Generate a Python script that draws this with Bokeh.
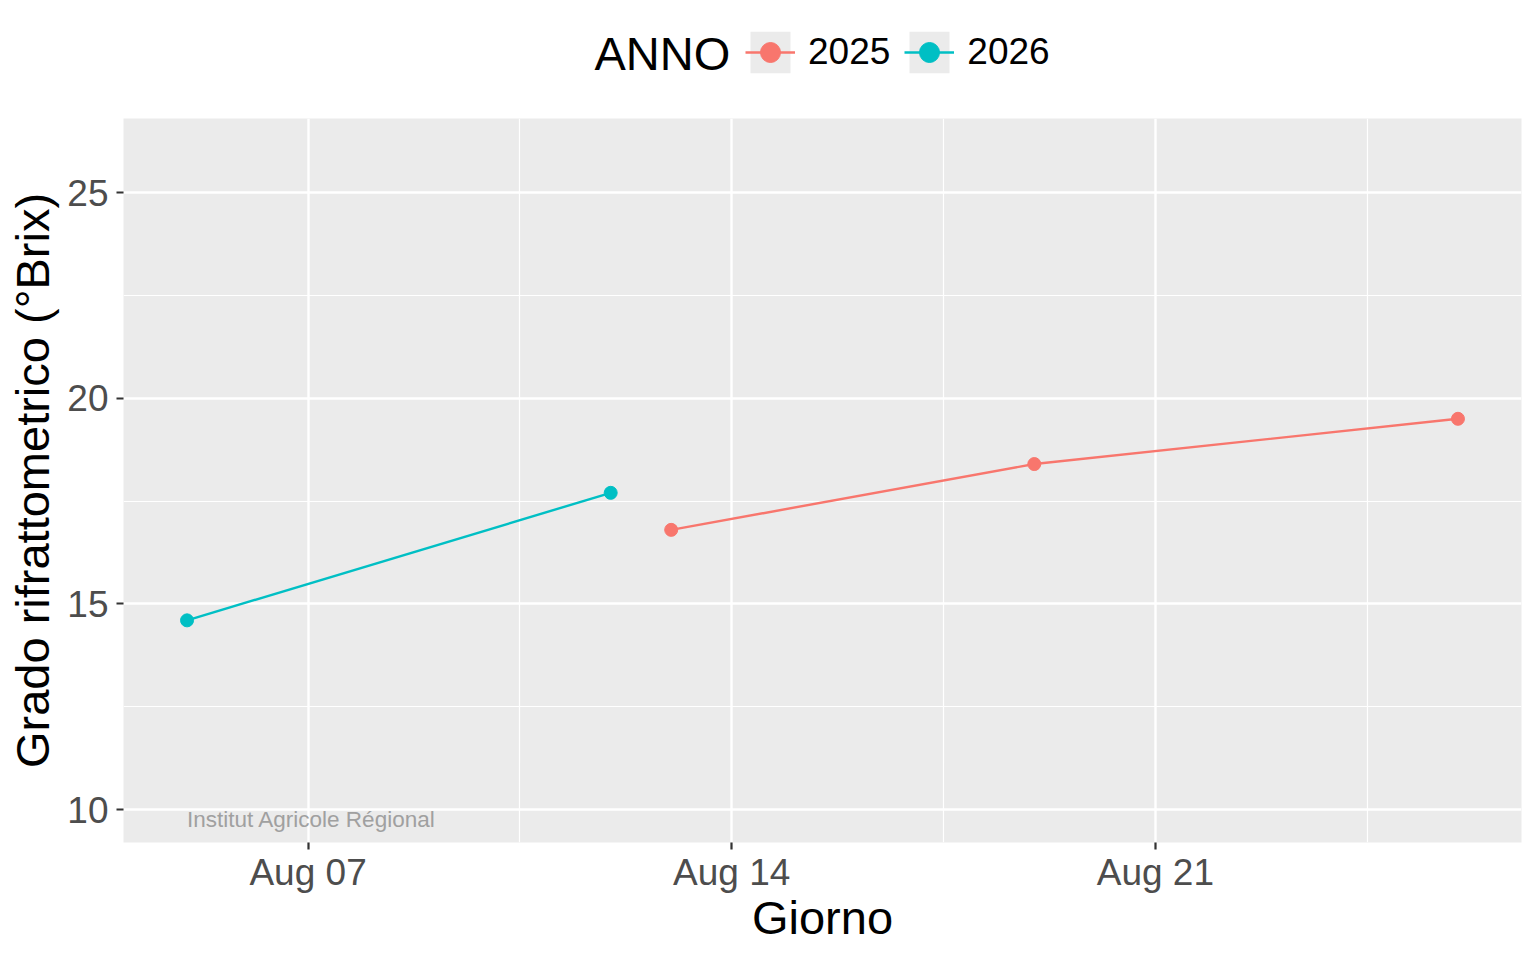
import pandas as pd
from bokeh.plotting import figure
from bokeh.layouts import column
from bokeh.models import (FixedTicker, DatetimeTickFormatter, Legend, LegendItem,
                          Label, Range1d, ColumnDataSource)
from bokeh.embed import file_html
from bokeh.resources import INLINE

# ---- data -------------------------------------------------------------
anni = ["2025", "2026"]
giorni_2025 = ["2026-08-13", "2026-08-19", "2026-08-26"]
brix_2025 = [16.8, 18.4, 19.5]
giorni_2026 = ["2026-08-05", "2026-08-12"]
brix_2026 = [14.6, 17.7]
colori = ["#F8766D", "#00BFC4"]
x_tick_giorni = ["2026-08-07", "2026-08-14", "2026-08-21"]
y_ticks = [10, 15, 20, 25]
y_limiti = [10, 26]
legend_title = "ANNO"
watermark = "Institut Agricole Régional"

FONT = "Liberation Sans"
FRAME_W, FRAME_H = 1398, 724
LEFT, RIGHT, BOTTOM = 123, 10, 110
TOTAL_W = LEFT + FRAME_W + RIGHT
HEADER_H = 118


def ms(s):
    return pd.Timestamp(s).timestamp() * 1000.0


serie = {
    "2025": (giorni_2025, brix_2025, colori[0]),
    "2026": (giorni_2026, brix_2026, colori[1]),
}

all_x = [ms(d) for d in giorni_2025 + giorni_2026]
xmin, xmax = min(all_x), max(all_x)
xpad = 0.05 * (xmax - xmin)
ypad = 0.05 * (y_limiti[1] - y_limiti[0])

# ---- main panel -------------------------------------------------------
p = figure(frame_width=FRAME_W, frame_height=FRAME_H, x_axis_type="datetime",
           x_range=Range1d(xmin - xpad, xmax + xpad),
           y_range=Range1d(y_limiti[0] - ypad, y_limiti[1] + ypad),
           output_backend="svg", toolbar_location=None,
           min_border_left=LEFT, min_border_right=RIGHT,
           min_border_top=0, min_border_bottom=BOTTOM)

p.background_fill_color = "#EBEBEB"
p.border_fill_color = "white"
p.outline_line_color = None

xt = [ms(d) for d in x_tick_giorni]
step = xt[1] - xt[0]
x_minor = [xt[0] - step / 2] + [(a + b) / 2 for a, b in zip(xt[:-1], xt[1:])] + [xt[-1] + step / 2]
p.xaxis.ticker = FixedTicker(ticks=xt, minor_ticks=x_minor)
fmt = "%b %d"
p.xaxis.formatter = DatetimeTickFormatter(days=fmt, months=fmt, years=fmt, hours=fmt,
                                          hourmin=fmt, minutes=fmt)
y_minor = [(a + b) / 2 for a, b in zip(y_ticks[:-1], y_ticks[1:])]
p.yaxis.ticker = FixedTicker(ticks=y_ticks, minor_ticks=y_minor)

for g in (p.xgrid[0], p.ygrid[0]):
    g.grid_line_color = "white"
    g.grid_line_width = 2.4
    g.minor_grid_line_color = "white"
    g.minor_grid_line_width = 1.2

for ax in (p.xaxis[0], p.yaxis[0]):
    ax.axis_line_color = None
    ax.major_tick_line_color = "#333333"
    ax.major_tick_line_width = 2.2
    ax.major_tick_out = 7
    ax.major_tick_in = 0
    ax.minor_tick_line_color = None
    ax.major_label_text_color = "#4D4D4D"
    ax.major_label_text_font = FONT
    ax.major_label_text_font_size = "37px"
    ax.axis_label_text_font = FONT
    ax.axis_label_text_font_size = "47px"
    ax.axis_label_text_font_style = "normal"
    ax.axis_label_text_color = "black"

p.xaxis.axis_label = "Giorno"
p.yaxis.axis_label = "Grado rifrattometrico (°Brix)"
p.xaxis.major_label_standoff = 2
p.xaxis.axis_label_standoff = -5
p.yaxis.major_label_standoff = 8
p.yaxis.axis_label_standoff = 5

for anno in anni:
    giorni, brix, col = serie[anno]
    src = ColumnDataSource(dict(giorno=[ms(d) for d in giorni], brix=brix))
    p.line("giorno", "brix", source=src, line_color=col, line_width=2.4)
    p.scatter("giorno", "brix", source=src, size=13, fill_color=col, line_color=col)

wm = Label(x=ms(giorni_2026[0]), y=y_limiti[0], text=watermark, y_offset=3,
           text_font=FONT, text_font_size="22.5px", text_color="#A0A0A0",
           text_align="left", text_baseline="top")
p.add_layout(wm)

# ---- legend header (ggplot-style legend on top) -----------------------
# the header's frame is aligned with the main frame (starts at LEFT)
h = figure(width=TOTAL_W, height=HEADER_H, x_axis_location=None, y_axis_location=None,
           x_range=Range1d(0, 1), y_range=Range1d(0, 1),
           output_backend="svg", toolbar_location=None,
           min_border_left=0, min_border_right=0, min_border_top=0, min_border_bottom=0)
h.grid.visible = False
h.outline_line_color = None
h.background_fill_color = "white"
h.border_fill_color = "white"

nan = float("nan")
items = []
for anno in anni:
    _, _, col = serie[anno]
    box = h.quad(left=[nan], right=[nan], top=[nan], bottom=[nan],
                 fill_color="#EBEBEB", line_color=None)
    ln = h.line([nan], [nan], line_color=col, line_width=2.4)
    pt = h.scatter([nan], [nan], size=13, fill_color=col, line_color=col)
    items.append(LegendItem(label=anno, renderers=[box, ln, pt]))

legend = Legend(items=items, orientation="horizontal",
                location=(745 - LEFT, HEADER_H - 78), glyph_width=50, glyph_height=52,
                label_standoff=13, spacing=14,
                padding=0, margin=0, border_line_color=None, background_fill_alpha=0,
                label_text_font=FONT, label_text_font_size="37px",
                label_text_color="black", label_height=52)
h.add_layout(legend, "center")

title_lbl = Label(x=594 - LEFT, y=HEADER_H - 53, x_units="screen", y_units="screen",
                  text=legend_title, text_font=FONT, text_font_size="47px",
                  text_color="black", text_align="left", text_baseline="middle")
h.add_layout(title_lbl)

layout = column(h, p, spacing=0)
open("out.html", "w").write(file_html(layout, INLINE))
